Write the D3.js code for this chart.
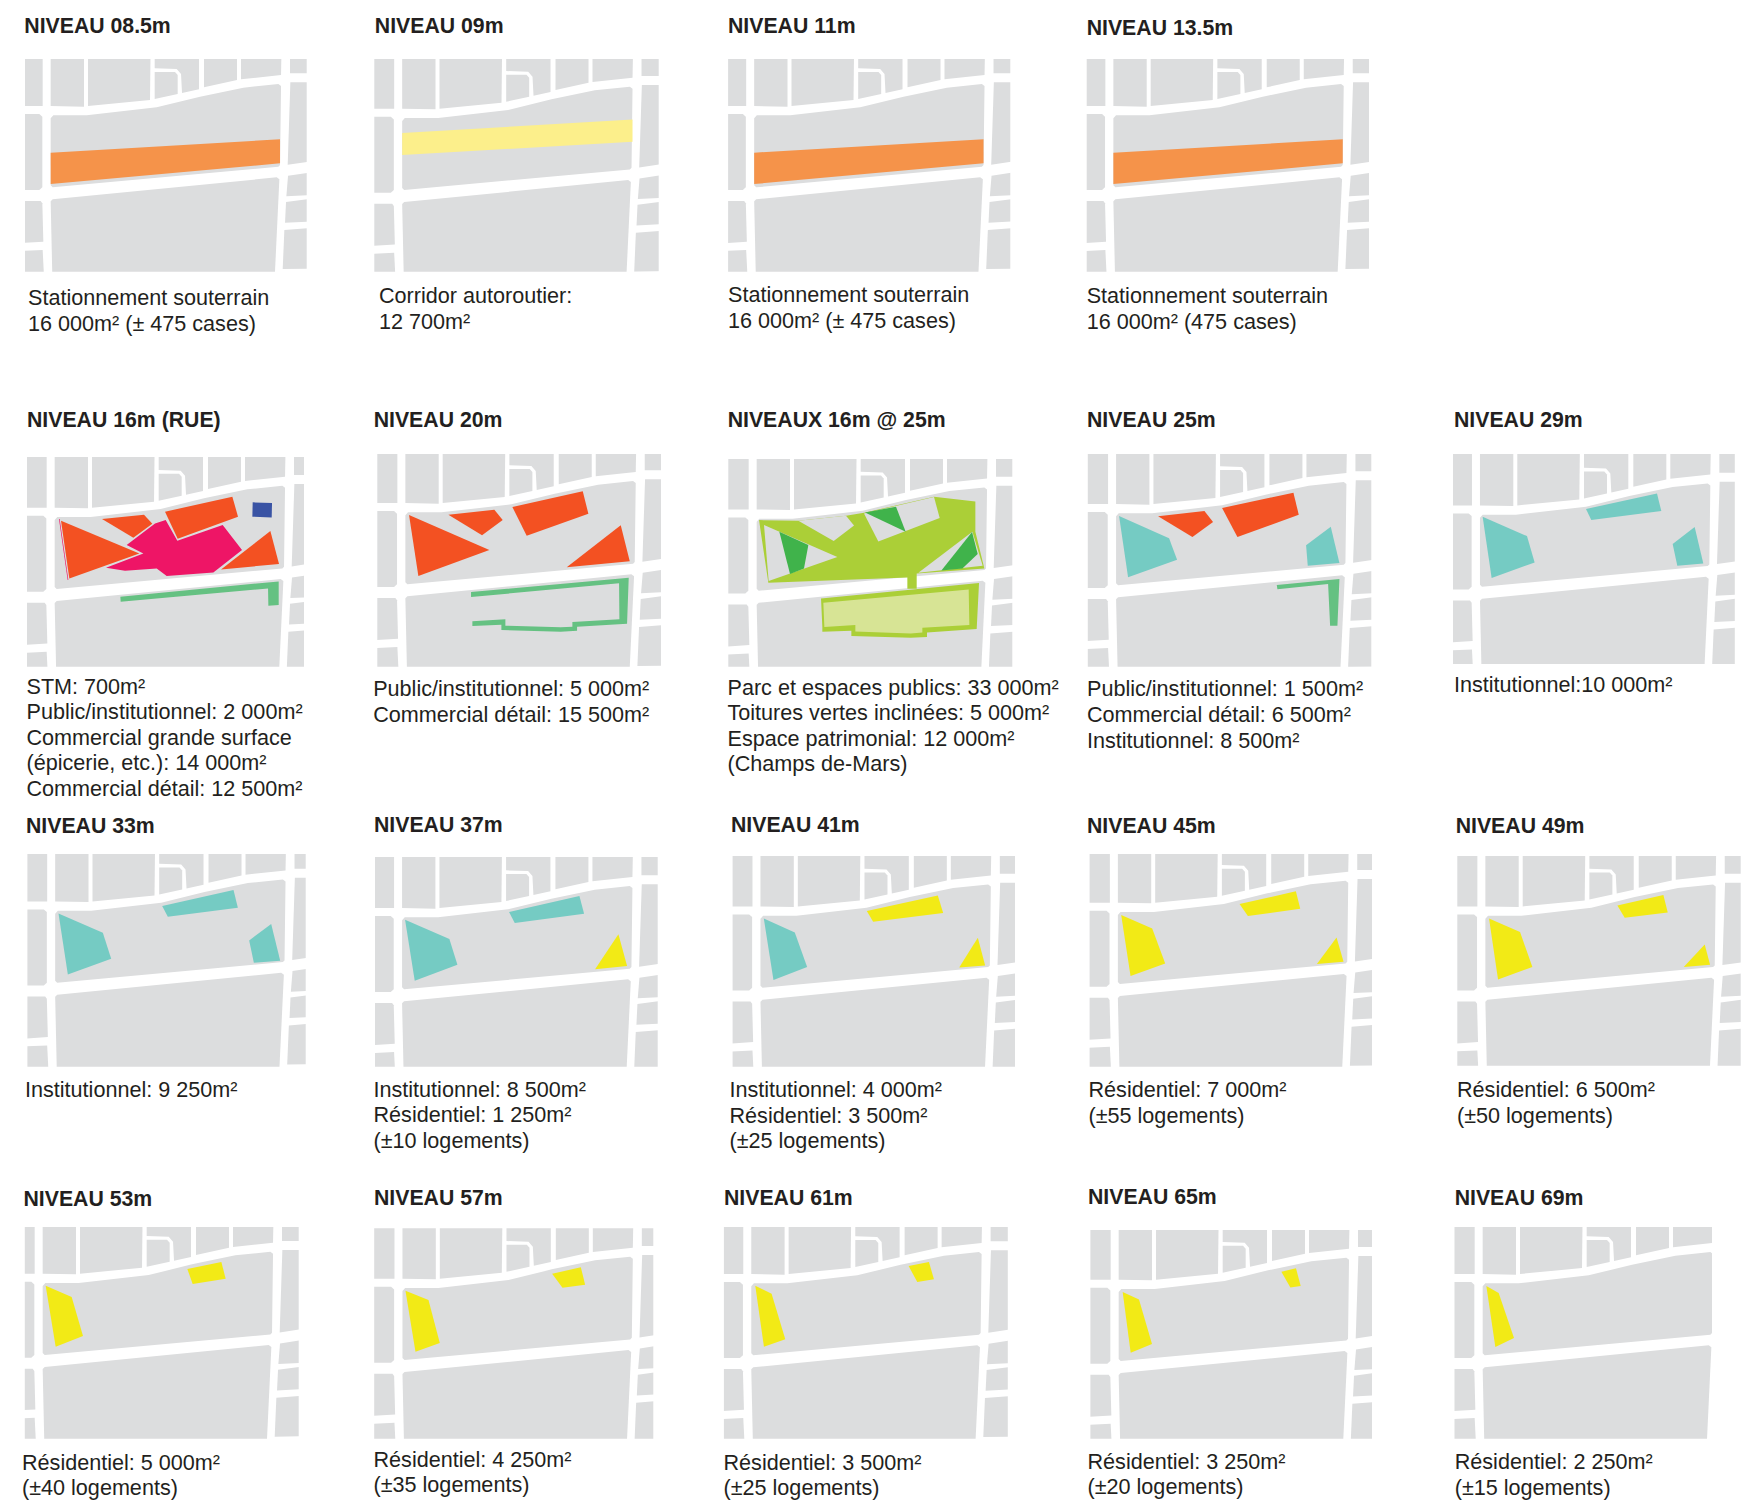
<!DOCTYPE html>
<html>
<head>
<meta charset="utf-8">
<script src="https://cdn.jsdelivr.net/npm/d3@7"></script>
<style>
  html, body { margin: 0; padding: 0; background: #fff; }
  text { font-family: "Liberation Sans", Arial, sans-serif; fill: #231f20; }
</style>
</head>
<body>
<div id="chart"></div>
<script>
const titles = [
  "NIVEAU 08.5m", "NIVEAU 09m", "NIVEAU 11m", "NIVEAU 13.5m",
  "NIVEAU 16m (RUE)", "NIVEAU 20m", "NIVEAUX 16m @ 25m", "NIVEAU 25m", "NIVEAU 29m",
  "NIVEAU 33m", "NIVEAU 37m", "NIVEAU 41m", "NIVEAU 45m", "NIVEAU 49m",
  "NIVEAU 53m", "NIVEAU 57m", "NIVEAU 61m", "NIVEAU 65m", "NIVEAU 69m"
];

const captions = [
  ["Stationnement souterrain", "16 000m² (± 475 cases)"],
  ["Corridor autoroutier:", "12 700m²"],
  ["Stationnement souterrain", "16 000m² (± 475 cases)"],
  ["Stationnement souterrain", "16 000m² (475 cases)"],
  ["STM: 700m²", "Public/institutionnel: 2 000m²", "Commercial grande surface", "(épicerie, etc.): 14 000m²", "Commercial détail: 12 500m²"],
  ["Public/institutionnel: 5 000m²", "Commercial détail: 15 500m²"],
  ["Parc et espaces publics: 33 000m²", "Toitures vertes inclinées: 5 000m²", "Espace patrimonial: 12 000m²", "(Champs de-Mars)"],
  ["Public/institutionnel: 1 500m²", "Commercial détail: 6 500m²", "Institutionnel: 8 500m²"],
  ["Institutionnel:10 000m²"],
  ["Institutionnel: 9 250m²"],
  ["Institutionnel: 8 500m²", "Résidentiel: 1 250m²", "(±10 logements)"],
  ["Institutionnel: 4 000m²", "Résidentiel: 3 500m²", "(±25 logements)"],
  ["Résidentiel: 7 000m²", "(±55 logements)"],
  ["Résidentiel: 6 500m²", "(±50 logements)"],
  ["Résidentiel: 5 000m²", "(±40 logements)"],
  ["Résidentiel: 4 250m²", "(±35 logements)"],
  ["Résidentiel: 3 500m²", "(±25 logements)"],
  ["Résidentiel: 3 250m²", "(±20 logements)"],
  ["Résidentiel: 2 250m²", "(±15 logements)"]
];

// city blocks, same in every panel (plan units)
const cityBlocks = [
  [[20,120],[128,120],[128,318],[20,318]],
  [[152,120],[252,120],[252,320],[152,318]],
  [[264,120],[452,120],[450,300],[264,318]],
  [[464,120],[597,120],[597,268],[546,279],[543,222],[530,207],[464,205]],
  [[464,216],[525,216],[533,225],[533,282],[464,297]],
  [[612,120],[711,120],[711,240],[612,262]],
  [[723,120],[845,120],[843,225],[723,238]],
  [[870,120],[980,120],[980,220],[870,220]],
  [[152,355],[160,346],[260,346],[470,322],[600,290],[730,263],[835,252],[843,258],[840,495],[835,500],[158,562],[152,556]],
  [[20,342],[118,342],[127,350],[127,562],[118,570],[20,570]],
  [[871,247],[980,247],[980,477],[863,494]],
  [[864,527],[980,510],[980,583],[859,589]],
  [[858,606],[980,590],[980,662],[855,668]],
  [[853,690],[980,680],[980,805],[848,807]],
  [[152,604],[158,598],[830,532],[838,538],[825,812],[824,830],[157,830]],
  [[20,603],[122,603],[127,610],[130,725],[20,732]],
  [[20,755],[128,750],[132,830],[20,830]]
];

const parkingBand = [[152,458],[840,418],[840,490],[152,552]];

// programme areas per panel: [category, polygon in plan units]
const panelShapes = [
  [["parking", parkingBand]],
  [["corridor", [[152,391],[843,350],[843,417],[152,457]]]],
  [["parking", parkingBand]],
  [["parking", parkingBand]],
  [
    ["grande surface", [[368,430],[453,365],[485,355],[520,417],[656,370],[714,445],[628,512],[488,523],[458,500],[363,507],[306,498],[418,455]]],
    ["grande surface", [[165,352],[167,352],[193,535],[191,535]]],
    ["detail", [[171,357],[406,455],[196,530]]],
    ["detail", [[294,352],[420,339],[445,366],[388,408]]],
    ["detail", [[483,330],[685,285],[702,345],[521,411]]],
    ["detail", [[799,388],[825,487],[651,503]]],
    ["stm", [[746,302],[804,304],[803,347],[745,345]]],
    ["public", [[349,585],[824,539],[824,610],[793,612],[792,560],[350,600]]]
  ],
  [
    ["detail", [[163,354],[404,459],[191,537]]],
    ["detail", [[281,353],[419,338],[444,369],[382,415]]],
    ["detail", [[473,330],[684,283],[701,350],[516,416]]],
    ["detail", [[798,385],[825,493],[636,511]]],
    ["public", [[349,585],[822,542],[817,680],[667,689],[667,701],[618,704],[440,699],[440,683],[353,687],[353,673],[452,667],[452,686],[618,691],[653,689],[653,675],[794,667],[793,559],[349,600]]]
  ],
  [
    ["parc", [[159,350],[277,352],[420,337],[474,328],[684,280],[808,294],[808,385],[835,495],[632,510],[632,556],[604,556],[604,522],[187,538]]],
    ["block", [[174,365],[394,461],[188,533]]],
    ["block", [[277,352],[420,337],[444,366],[383,413]]],
    ["block", [[474,330],[684,281],[701,344],[517,414]]],
    ["block", [[799,385],[830,487],[637,508]]],
    ["toiture", [[220,385],[307,425],[294,495],[252,512]]],
    ["toiture", [[477,327],[570,310],[599,385]]],
    ["toiture", [[798,386],[815,452],[769,495],[706,501]]],
    ["parc", [[345,585],[819,539],[812,677],[663,687],[663,701],[614,703],[436,698],[436,682],[349,685],[349,671]]],
    ["patrimonial", [[352,598],[788,558],[790,665],[649,673],[649,687],[614,690],[448,684],[448,665],[355,671]]]
  ],
  [
    ["detail", [[278,355],[417,339],[443,372],[381,417]]],
    ["detail", [[470,330],[684,284],[700,350],[516,417]]],
    ["institutionnel", [[161,354],[311,421],[335,485],[188,538]]],
    ["institutionnel", [[796,386],[822,495],[727,503],[722,442]]],
    ["public", [[634,561],[822,543],[816,683],[794,683],[788,558],[636,574]]]
  ],
  [
    ["institutionnel", [[470,329],[683,282],[696,335],[486,362]]],
    ["institutionnel", [[160,352],[293,410],[316,489],[187,536]]],
    ["institutionnel", [[796,383],[822,492],[744,499],[730,434]]]
  ],
  [
    ["institutionnel", [[473,332],[687,284],[700,337],[490,364]]],
    ["institutionnel", [[162,354],[295,412],[320,490],[190,537]]],
    ["institutionnel", [[800,386],[827,496],[748,502],[734,435]]]
  ],
  [
    ["institutionnel", [[473,330],[684,282],[698,335],[490,363]]],
    ["institutionnel", [[161,353],[294,411],[318,488],[190,536]]],
    ["residentiel", [[801,397],[827,492],[731,502]]]
  ],
  [
    ["residentiel", [[471,332],[684,285],[700,338],[490,364]]],
    ["institutionnel", [[162,354],[255,396],[292,500],[191,539]]],
    ["residentiel", [[804,412],[826,495],[748,501]]]
  ],
  [
    ["residentiel", [[517,322],[686,284],[699,336],[542,358]]],
    ["residentiel", [[162,355],[255,395],[294,500],[190,538]]],
    ["residentiel", [[808,422],[829,495],[749,502]]]
  ],
  [
    ["residentiel", [[548,315],[686,284],[699,336],[570,352]]],
    ["residentiel", [[163,354],[256,395],[293,500],[190,537]]],
    ["residentiel", [[810,432],[826,493],[747,500]]]
  ],
  [
    ["residentiel", [[586,304],[688,283],[701,333],[602,349]]],
    ["residentiel", [[161,354],[239,388],[273,505],[191,537]]]
  ],
  [
    ["residentiel", [[601,303],[687,284],[700,336],[632,345]]],
    ["residentiel", [[161,354],[230,382],[264,511],[191,537]]]
  ],
  [
    ["residentiel", [[624,294],[685,282],[700,334],[650,342]]],
    ["residentiel", [[164,353],[213,377],[254,514],[190,536]]]
  ],
  [
    ["residentiel", [[640,294],[684,284],[698,337],[667,341]]],
    ["residentiel", [[164,355],[213,377],[252,511],[188,537]]]
  ],
  [
    ["residentiel", [[163,354],[200,375],[246,510],[190,537]]]
  ]
];

// layout: plan origin, visible window [x0,y0,x1,y1], title and caption anchors
const planOrigins = [
  [25,59],[376.5,61.7],[728.5,59],[1087.7,59],
  [29,460.7],[379.7,456],[731,462.4],[1090.4,457],[1454.3,458.4],
  [29.5,854.4],[376.4,861],[734.8,859.4],[1092.2,855.7],[1459.7,859.4],
  [17,1226.7],[376.8,1231.7],[725.6,1227],[1093,1232.7],[1457,1227]
];
const planWindows = [
  [25,59,306.7,271.7],[374.3,59,658.7,271.7],[728.1,59,1010.3,271.7],[1086.7,59,1369,271.7],
  [27,457,304,666.7],[377.3,454,661,666.7],[728.3,459,1012.3,666.7],[1087.8,454,1371.3,666.7],[1453,454,1734.8,664],
  [27.4,854,305.7,1066.7],[375,857,657.7,1066.7],[732.6,856,1015,1066.7],[1089.6,854,1372,1066.7],[1457.3,856,1740.7,1065.7],
  [24.8,1227,298.7,1438.7],[374.2,1228.3,653.3,1438.7],[723.9,1227,1007.8,1438.7],[1090.4,1230,1372,1438.7],[1454.5,1227,1712,1438.7]
];
const titleAnchors = [
  [24.3,33.3],[374.8,33.3],[728,33.3],[1086.7,35],
  [27,426.7],[373.7,426.7],[727.7,426.7],[1087,426.7],[1454,426.7],
  [26,833.3],[374,832.3],[731,831.7],[1087,833.3],[1455.7,832.7],
  [23.5,1206],[374,1205],[724,1205],[1088,1204],[1454.7,1205]
];
const captionAnchors = [
  [28,[305.3,331]],[379,[302.7,329]],[728,[302,328.3]],[1086.7,[302.7,329.3]],
  [26.5,[694.3,719.3,745.3,770.3,795.5]],[373.2,[696,721.7]],[727.5,[695,720,745.7,770.7]],[1087,[696,722,747.7]],[1454,[692.3]],
  [25,[1096.7]],[373.5,[1096.7,1121.7,1148]],[729.5,[1096.7,1122.7,1147.7]],[1088.5,[1096.7,1122.7]],[1457,[1096.7,1122.7]],
  [22,[1470,1495]],[373.5,[1467.3,1492.3]],[723.5,[1470,1495]],[1087.5,[1469,1494]],[1454.7,[1469,1495]]
];

const width = 1752, height = 1510;
const planSize = [845, 638];   // plan units shown in a panel
const planPixels = [281.7, 212.7];

const color = d3.scaleOrdinal()
  .domain(["block", "parking", "corridor", "detail", "grande surface", "stm", "public", "parc", "toiture", "patrimonial", "institutionnel", "residentiel"])
  .range(["#dcddde", "#f5934a", "#fcef8b", "#f35122", "#ee1566", "#3953a4", "#65c182", "#abcf37", "#40b34b", "#d7e495", "#75cbc3", "#f2ea16"]);

const svg = d3.select("#chart").append("svg")
  .attr("width", width)
  .attr("height", height)
  .style("display", "block");

titles.forEach((title, i) => {
  const [ox, oy] = planOrigins[i];
  const [x0, y0, x1, y1] = planWindows[i];

  const x = d3.scaleLinear().domain([75, 75 + planSize[0]]).range([ox, ox + planPixels[0]]);
  const y = d3.scaleLinear().domain([177, 177 + planSize[1]]).range([oy, oy + planPixels[1]]);
  const line = d3.line().x((d) => x(d[0])).y((d) => y(d[1]));
  const outline = (d) => line(d) + "Z";

  svg.append("clipPath")
    .attr("id", `plan-${i}`)
    .append("rect")
    .attr("x", x0)
    .attr("y", y0)
    .attr("width", x1 - x0)
    .attr("height", y1 - y0);

  const g = svg.append("g").attr("clip-path", `url(#plan-${i})`);

  g.selectAll(".city-block")
    .data(cityBlocks)
    .enter()
    .append("path")
    .attr("class", "city-block")
    .attr("d", outline)
    .attr("fill", color("block"));

  g.selectAll(".area")
    .data(panelShapes[i])
    .enter()
    .append("path")
    .attr("class", "area")
    .attr("d", (d) => outline(d[1]))
    .attr("fill", (d) => color(d[0]));

  svg.append("text")
    .attr("x", titleAnchors[i][0])
    .attr("y", titleAnchors[i][1])
    .attr("font-size", 21.25)
    .attr("font-weight", "bold")
    .text(title);

  const [textX, baselines] = captionAnchors[i];
  svg.selectAll(`.caption-${i}`)
    .data(captions[i])
    .enter()
    .append("text")
    .attr("class", `caption-${i}`)
    .attr("x", textX)
    .attr("y", (d, k) => baselines[k])
    .attr("font-size", 21.6)
    .text((d) => d);
});
</script>
</body>
</html>
